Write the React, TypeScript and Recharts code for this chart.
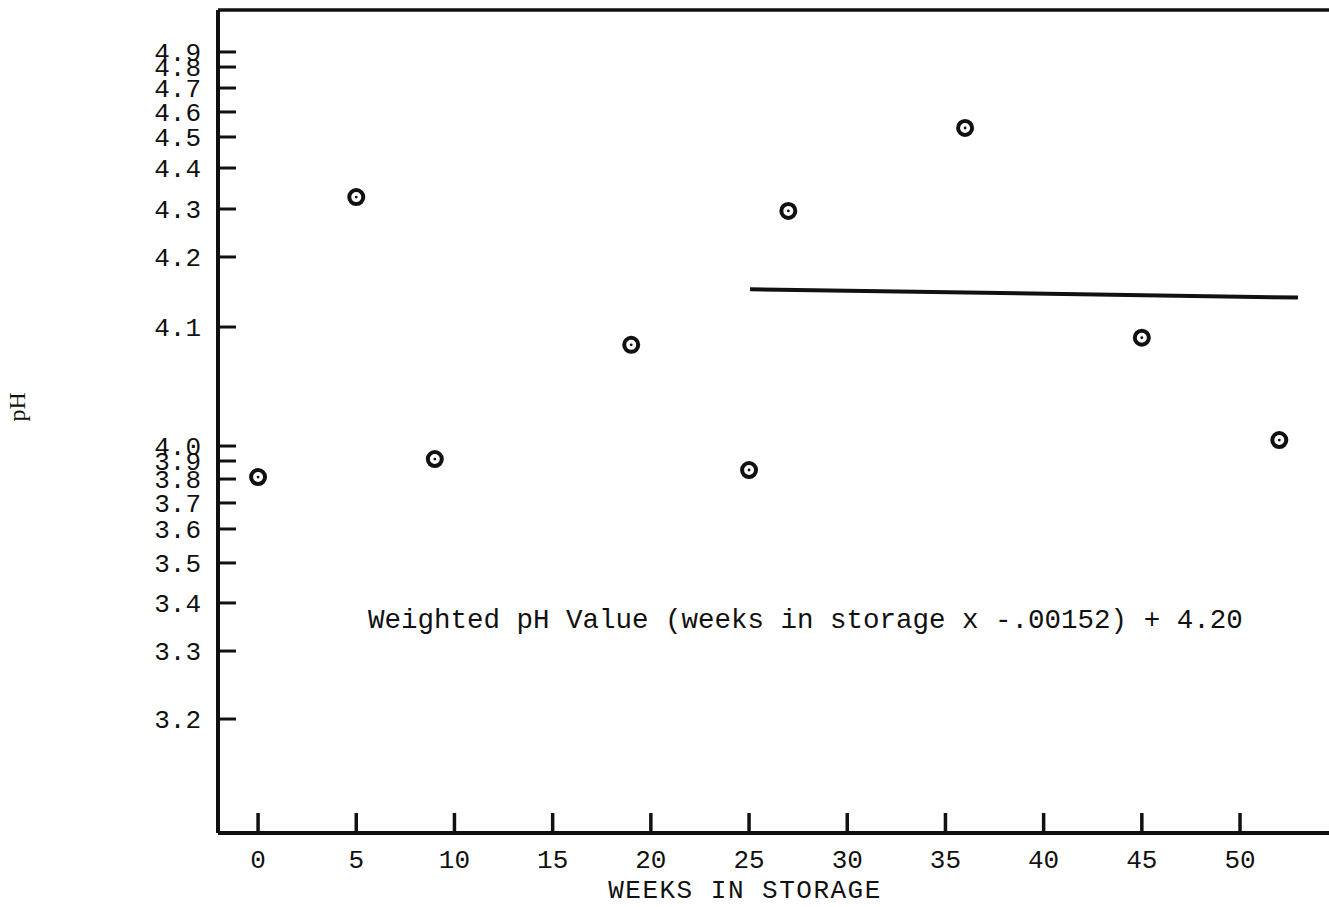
import { ComposedChart, Line, ReferenceLine, Scatter, XAxis, YAxis } from "recharts";

// measured data: weeks in storage vs pH
const WEEKS = [0, 5, 9, 19, 25, 27, 36, 45, 52];
const PH = [3.811, 4.329, 3.913, 4.085, 3.85, 4.296, 4.536, 4.091, 4.005];

// fitted line as drawn on the sheet
const FIT_WEEKS = [25.05, 52.95];
const FIT_PH = [4.154, 4.142];

const X_TICKS = [0, 5, 10, 15, 20, 25, 30, 35, 40, 45, 50];
const Y_TICKS = [3.2, 3.3, 3.4, 3.5, 3.6, 3.7, 3.8, 3.9, 4.0, 4.1, 4.2, 4.3, 4.4, 4.5, 4.6, 4.7, 4.8, 4.9];

// the graph paper is not linear: pH value -> height on the sheet (0 bottom, 1 top)
const KNOT_PH = [3.0, 3.2, 3.3, 3.4, 3.5, 3.6, 3.7, 3.8, 3.9, 4.0, 4.1, 4.2, 4.3, 4.4, 4.5, 4.6, 4.7, 4.8, 4.9, 5.0];
const KNOT_PAPER = [0, 0.1385, 0.2211, 0.2795, 0.3281, 0.3694, 0.401, 0.4301, 0.452, 0.4702, 0.6148, 0.6999, 0.7582, 0.808, 0.8457, 0.8761, 0.9052, 0.9307, 0.949, 1];

const FONT = "'Liberation Mono', 'DejaVu Sans Mono', monospace";
const INK = "#111";

function paper(v: number) {
  if (v <= KNOT_PH[0]) return KNOT_PAPER[0];
  for (let i = 1; i < KNOT_PH.length; i++) {
    if (v <= KNOT_PH[i]) {
      const f = (v - KNOT_PH[i - 1]) / (KNOT_PH[i] - KNOT_PH[i - 1]);
      return KNOT_PAPER[i - 1] + f * (KNOT_PAPER[i] - KNOT_PAPER[i - 1]);
    }
  }
  return KNOT_PAPER[KNOT_PAPER.length - 1];
}

function paperScale(): any {
  let dom = [3.0, 5.0];
  let rng = [0, 1];
  const s: any = (v: number) => {
    const p0 = paper(dom[0]);
    const p1 = paper(dom[dom.length - 1]);
    const f = (paper(Number(v)) - p0) / (p1 - p0);
    return rng[0] + (rng[rng.length - 1] - rng[0]) * f;
  };
  s.domain = (d?: any[]) => {
    if (d === undefined) return dom.slice();
    dom = d.map(Number);
    return s;
  };
  s.range = (r?: any[]) => {
    if (r === undefined) return rng.slice();
    rng = r.map(Number);
    return s;
  };
  s.ticks = () => Y_TICKS.slice();
  s.copy = () => paperScale().domain(dom).range(rng);
  return s;
}

const points = WEEKS.map((w, i) => ({ week: w, ph: PH[i] }));
const fit = FIT_WEEKS.map((w, i) => ({ week: w, ph: FIT_PH[i] }));

function LeftTick(props: any) {
  const { x, y, payload } = props;
  return (
    <g>
      <line x1={x} x2={x + 18} y1={y} y2={y} stroke={INK} strokeWidth={3} />
      <text x={x - 17} y={y} dy={9} textAnchor="end" fontFamily={FONT} fontSize={26} fill={INK}>
        {payload.value.toFixed(1)}
      </text>
    </g>
  );
}

function RightTick(props: any) {
  const { x, y } = props;
  return <line x1={x - 11} x2={x} y1={y} y2={y} stroke={INK} strokeWidth={3} />;
}

function BottomTick(props: any) {
  const { x, y, payload } = props;
  return (
    <g>
      <line x1={x} x2={x} y1={y} y2={y - 20} stroke={INK} strokeWidth={3.5} />
      <text x={x} y={y + 35} textAnchor="middle" fontFamily={FONT} fontSize={26} fill={INK}>
        {payload.value}
      </text>
    </g>
  );
}

function XTitle() {
  return (
    <text x={745} y={898} textAnchor="middle" fontFamily={FONT} fontSize={26} fill={INK} letterSpacing={1.5}>
      WEEKS IN STORAGE
    </text>
  );
}

function Ring(props: any) {
  const { cx, cy } = props;
  return (
    <g>
      <circle cx={cx} cy={cy} r={7} fill="#fff" stroke={INK} strokeWidth={4} />
      <circle cx={cx} cy={cy} r={1.4} fill={INK} />
    </g>
  );
}

export default function App() {
  return (
    <div style={{ position: "absolute", left: 0, top: 0, width: 1329, height: 907, background: "#fff" }}>
      <ComposedChart width={1329} height={907} margin={{ top: 10, right: 0, bottom: 0, left: 0 }}>
        <XAxis
          type="number"
          dataKey="week"
          domain={[-2.04, 54.53]}
          allowDataOverflow
          ticks={X_TICKS}
          interval={0}
          height={74}
          tickSize={0}
          tickMargin={0}
          tick={<BottomTick />}
          axisLine={{ stroke: INK, strokeWidth: 4 }}
          label={<XTitle />}
        />
        <YAxis
          yAxisId="left"
          type="number"
          dataKey="ph"
          scale={paperScale()}
          domain={[3.0, 5.0]}
          allowDataOverflow
          ticks={Y_TICKS}
          interval={0}
          width={218}
          tickSize={0}
          tickMargin={0}
          tick={<LeftTick />}
          axisLine={{ stroke: INK, strokeWidth: 4 }}
          label={{ value: "pH", angle: -90, position: "insideLeft", offset: 16, fontFamily: "'Liberation Serif', serif", fontSize: 24, fill: INK }}
        />
        <YAxis
          yAxisId="right"
          orientation="right"
          type="number"
          scale={paperScale()}
          domain={[3.0, 5.0]}
          allowDataOverflow
          ticks={Y_TICKS}
          interval={0}
          width={0}
          tickSize={0}
          tickMargin={0}
          tick={<RightTick />}
          axisLine={false}
        />
        <ReferenceLine yAxisId="left" y={5.0} stroke={INK} strokeWidth={3.5} />
        <Line
          yAxisId="left"
          data={fit}
          dataKey="ph"
          type="linear"
          stroke={INK}
          strokeWidth={4}
          dot={false}
          activeDot={false}
          isAnimationActive={false}
        />
        <Scatter yAxisId="left" data={points} dataKey="ph" shape={<Ring />} isAnimationActive={false} />
      </ComposedChart>
      <div
        style={{
          position: "absolute",
          left: 368,
          top: 606,
          fontFamily: FONT,
          fontSize: 27.5,
          lineHeight: "30px",
          color: INK,
          whiteSpace: "pre",
        }}
      >
        Weighted pH Value (weeks in storage x -.00152) + 4.20
      </div>
    </div>
  );
}
